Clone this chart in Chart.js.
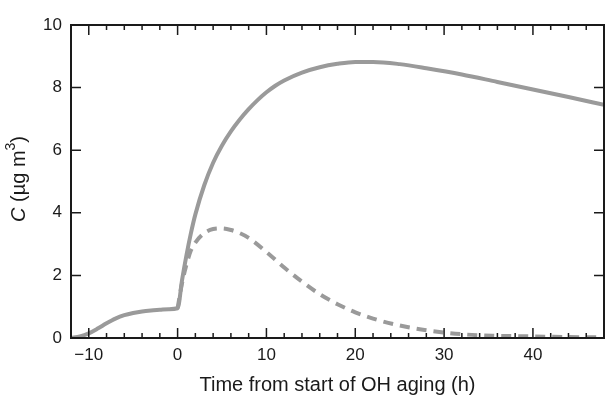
<!DOCTYPE html>
<html>
<head>
<meta charset="utf-8">
<script src="https://cdn.jsdelivr.net/npm/chart.js@4.4.1/dist/chart.umd.min.js"></script>
<style>
    html, body { margin: 0; padding: 0; background: #fff; }
    #wrap { width: 606px; height: 397px; position: relative; }
</style>
</head>
<body>
<div id="wrap"><canvas id="aging__chart"></canvas></div>
<script>
// total concentration (solid)
const timeSolid = [-12, -11, -10, -9, -8, -7, -6, -5, -4, -3, -2, -1, 0,
    0.5, 1, 1.5, 2, 3, 4, 5, 6, 7, 8, 9, 10, 11, 12, 14, 16, 18, 20, 22, 25, 28, 32, 36, 40, 44, 48];
const concSolid = [0.0, 0.05, 0.15, 0.3, 0.47, 0.62, 0.73, 0.8, 0.85, 0.88, 0.9, 0.92, 0.95,
    1.85, 2.65, 3.35, 3.95, 4.88, 5.6, 6.15, 6.6, 6.98, 7.31, 7.6, 7.85, 8.06, 8.23, 8.48, 8.65, 8.76, 8.82, 8.82, 8.75, 8.62, 8.42, 8.18, 7.94, 7.7, 7.45];

// dashed series, starts at OH aging
const timeDashed = [0, 0.5, 1, 1.5, 2, 3, 4, 5, 6, 7, 8, 10, 12, 14, 16, 18, 20, 22, 25, 28, 32, 36, 40, 44, 48];
const concDashed = [0.95, 1.75, 2.35, 2.8, 3.05, 3.35, 3.48, 3.5, 3.45, 3.35, 3.2, 2.75, 2.25, 1.8, 1.4, 1.08, 0.82, 0.62, 0.4, 0.25, 0.12, 0.07, 0.05, 0.03, 0.02];

const xTicks = [-10, 0, 10, 20, 30, 40];
const xMinorTicks = [-12, -8, -6, -4, -2, 2, 4, 6, 8, 12, 14, 16, 18, 22, 24, 26, 28, 32, 34, 36, 38, 42, 44, 46];
const yTicks = [0, 2, 4, 6, 8, 10];

const toPoints = (xs, ys) => xs.map((x, i) => ({ x: x, y: ys[i] }));

const FONT = '"Liberation Sans", Arial, Helvetica, sans-serif';
const LINE_GREY = '#9a9a9a';

// frame, inward ticks on all four sides, y title with italic C
const framePlugin = {
    id: 'frame',
    afterDraw(chart) {
        const ctx = chart.ctx;
        const a = chart.chartArea;
        const xs = chart.scales.x;
        const ys = chart.scales.y;
        ctx.save();
        ctx.strokeStyle = '#1a1a1a';
        ctx.lineWidth = 2;
        ctx.strokeRect(a.left, a.top, a.right - a.left, a.bottom - a.top);
        ctx.lineWidth = 1.5;
        ctx.beginPath();
        xTicks.forEach(v => {
            const p = xs.getPixelForValue(v);
            ctx.moveTo(p, a.bottom); ctx.lineTo(p, a.bottom - 10);
            ctx.moveTo(p, a.top); ctx.lineTo(p, a.top + 10);
        });
        xMinorTicks.forEach(v => {
            const p = xs.getPixelForValue(v);
            ctx.moveTo(p, a.bottom); ctx.lineTo(p, a.bottom - 5);
            ctx.moveTo(p, a.top); ctx.lineTo(p, a.top + 5);
        });
        yTicks.forEach(v => {
            const p = ys.getPixelForValue(v);
            ctx.moveTo(a.left, p); ctx.lineTo(a.left + 10, p);
            ctx.moveTo(a.right, p); ctx.lineTo(a.right - 10, p);
        });
        ctx.stroke();

        // y axis title
        ctx.translate(19, 179);
        ctx.rotate(-Math.PI / 2);
        ctx.fillStyle = '#1a1a1a';
        ctx.textBaseline = 'middle';
        const parts = [
            { t: 'C', f: 'italic 20px ' + FONT, dy: 0 },
            { t: ' (\u00b5g m', f: '20px ' + FONT, dy: 0 },
            { t: '3', f: '14px ' + FONT, dy: -8 },
            { t: ')', f: '20px ' + FONT, dy: 0 },
        ];
        let total = 0;
        parts.forEach(p => { ctx.font = p.f; total += ctx.measureText(p.t).width; });
        let cx = -total / 2;
        parts.forEach(p => {
            ctx.font = p.f;
            ctx.fillText(p.t, cx, p.dy);
            cx += ctx.measureText(p.t).width;
        });
        ctx.restore();
    },
};

const agingChartEle = document.getElementById('aging__chart');

const agingChart = new Chart(agingChartEle, {
    type: 'line',
    data: {
        datasets: [
            {
                label: 'solid',
                data: toPoints(timeSolid, concSolid),
                borderColor: LINE_GREY,
                borderWidth: 4,
                pointRadius: 0,
                fill: false,
                cubicInterpolationMode: 'monotone',
            },
            {
                label: 'dashed',
                data: toPoints(timeDashed, concDashed),
                borderColor: LINE_GREY,
                borderWidth: 4,
                borderDash: [10, 7],
                pointRadius: 0,
                fill: false,
                cubicInterpolationMode: 'monotone',
            },
        ],
    },
    options: {
        responsive: true,
        maintainAspectRatio: false,
        animation: false,
        layout: { padding: { top: 25, right: 2, left: 0, bottom: 0 } },
        plugins: {
            legend: { display: false },
            tooltip: { enabled: false },
        },
        scales: {
            x: {
                type: 'linear',
                min: -12,
                max: 48,
                afterBuildTicks: scale => { scale.ticks = xTicks.map(v => ({ value: v })); },
                afterFit: scale => { scale.height = 59; },
                grid: { display: false, drawTicks: false },
                border: { display: false },
                ticks: {
                    color: '#1a1a1a',
                    padding: 7,
                    font: { family: FONT, size: 17 },
                    callback: v => (v < 0 ? '\u2212' + Math.abs(v) : String(v)),
                },
                title: {
                    display: true,
                    text: 'Time from start of OH aging (h)',
                    color: '#1a1a1a',
                    font: { family: FONT, size: 20 },
                    padding: { top: 2, bottom: 0 },
                },
            },
            y: {
                min: 0,
                max: 10,
                afterBuildTicks: scale => { scale.ticks = yTicks.map(v => ({ value: v })); },
                afterFit: scale => { scale.width = 71; },
                grid: { display: false, drawTicks: false },
                border: { display: false },
                ticks: {
                    color: '#1a1a1a',
                    padding: 9,
                    font: { family: FONT, size: 17 },
                },
            },
        },
    },
    plugins: [framePlugin],
});
</script>
</body>
</html>
